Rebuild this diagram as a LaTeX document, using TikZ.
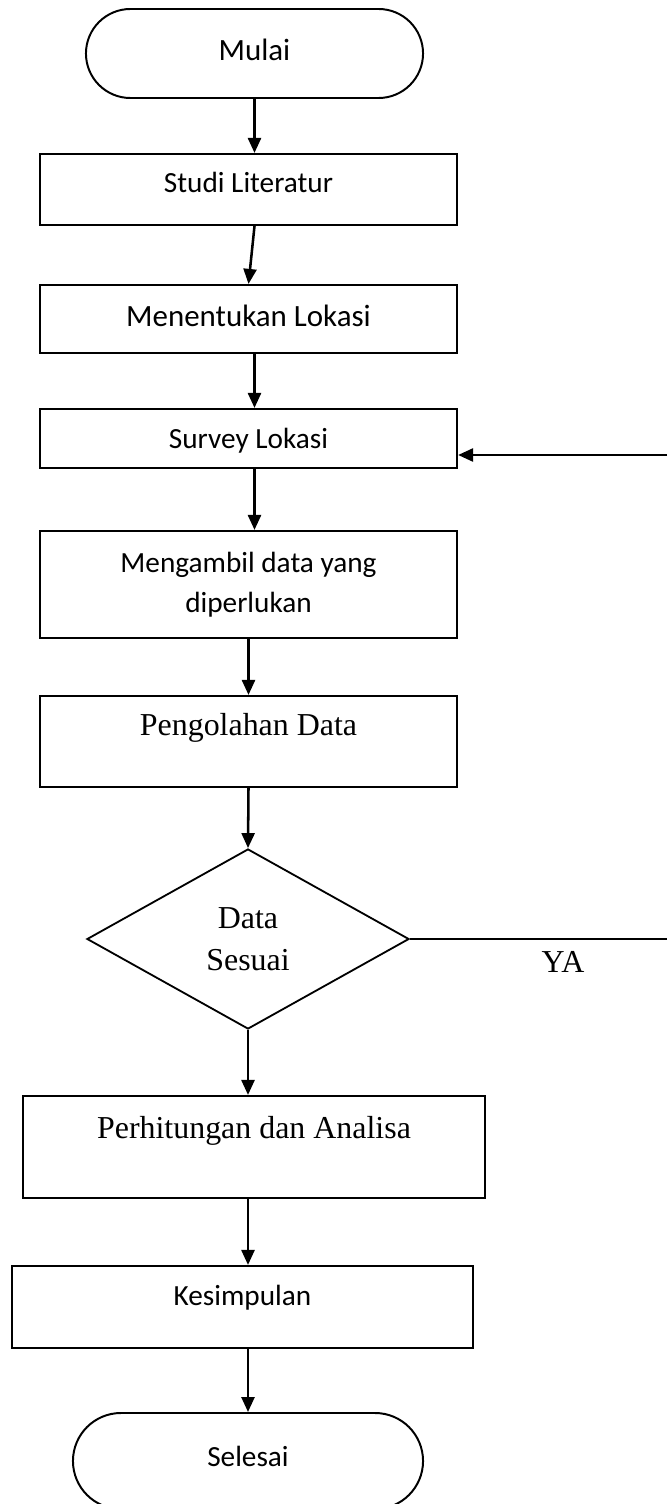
\documentclass[tikz,border=0pt]{standalone}
\usepackage{fontspec}
\setmainfont{Carlito}
\newfontfamily\timesfont{Liberation Serif}
\usetikzlibrary{shapes.geometric,shapes.misc,arrows.meta}

\newcommand{\calsmall}{\fontsize{20.8pt}{28.5pt}\selectfont}
\newcommand{\calbig}{\fontsize{22pt}{28.5pt}\selectfont}
\newcommand{\timesbig}{\timesfont\fontsize{22.7pt}{29.6pt}\selectfont}

\begin{document}
\begin{tikzpicture}[
    x=0.025cm, y=-0.025cm,
    font=\calsmall,
    terminal/.style={
        draw, rounded rectangle, line width=1.4pt,
        inner sep=0pt, minimum width=8.425cm
    },
    procbox/.style={
        draw, line width=1.5pt, inner sep=0pt,
        minimum width=10.425cm, align=center
    },
    decision/.style={
        draw, diamond, line width=1.3pt, inner sep=0pt,
        minimum width=8.05cm, minimum height=4.5cm, align=center
    },
    arrow/.style={-{Triangle[length=0.375cm,width=0.325cm]}, line width=1.8pt},
    plainline/.style={line width=1.4pt}
]
\useasboundingbox (0,0) rectangle (667,1504);

% Start and first steps
\node[terminal, font=\calbig, text height=1.29cm, text depth=0.935cm] (mulai) at (254.5,53.5) {Mulai};
\node[procbox, text height=0.97cm, text depth=0.805cm] (studi) at (248.5,189.5) {Studi Literatur};
\node[procbox, font=\calbig, text height=1.025cm, text depth=0.675cm] (lokasi) at (248.5,319) {Menentukan Lokasi};
\node[procbox, text height=0.98cm, text depth=0.495cm] (survey) at (248.5,438.5) {Survey Lokasi};
\node[procbox, minimum height=2.675cm] (ambil) at (248.5,584.5) {Mengambil data yang\\diperlukan};
\node[procbox, font=\timesbig, text height=0.975cm, text depth=1.3cm] (olah) at (248.5,741.5) {Pengolahan Data};

% Check
\node[decision, font=\timesbig] (sesuai) at (248,939) {Data\\Sesuai};
\node[font=\timesbig] (ya) at (563,962) {YA};

% Last steps
\node[procbox, font=\timesbig, minimum width=11.55cm, text height=1.06cm, text depth=1.49cm] (hitung) at (254,1147) {Perhitungan dan Analisa};
\node[procbox, minimum width=11.525cm, text height=0.975cm, text depth=1.075cm] (simpul) at (242.5,1307) {Kesimpulan};
\node[terminal, minimum width=8.75cm, text height=1.325cm, text depth=1.075cm] (selesai) at (248,1461) {Selesai};

\coordinate (balik) at (667,455);
\coordinate (kanan) at (667,939);

\draw[arrow] (mulai.south) -- (mulai.south |- studi.north);
\draw[arrow] (studi.south -| mulai.south) -- (lokasi.north);
\draw[arrow] (lokasi.south -| mulai.south) -- (survey.north -| mulai.south);
\draw[arrow] (survey.south -| mulai.south) -- (ambil.north -| mulai.south);
\draw[arrow] (ambil.south) -- (olah.north);
\draw[arrow] (olah.south) -- (sesuai.north);
\draw[arrow] (sesuai.south) -- (sesuai.south |- hitung.north);
\draw[arrow] (hitung.south -| selesai.north) -- (simpul.north -| selesai.north);
\draw[arrow] (simpul.south -| selesai.north) -- (selesai.north);

% Loop back from the right
\draw[plainline] (sesuai.east) -- (kanan);
\draw[arrow] (balik) -- (survey.east |- balik);

\end{tikzpicture}
\end{document}
